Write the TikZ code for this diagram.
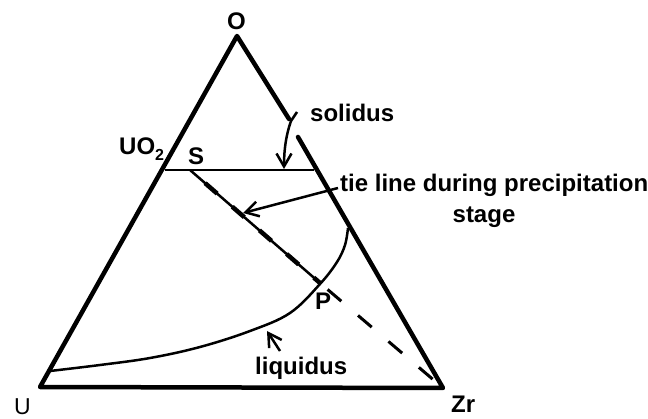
\documentclass[tikz,border=0pt]{standalone}
\usepackage{fontspec}
\setmainfont{Liberation Sans}
\usetikzlibrary{arrows.meta}
\begin{document}
\begin{tikzpicture}[x=1pt,y=-1pt,
  side/.style={line width=4.5pt, line cap=round, line join=round},
  thinline/.style={line width=2.5pt},
  lbl/.style={font=\fontsize{24}{28}\selectfont\bfseries, inner sep=0pt, anchor=base west},
  ptr/.style={line width=2.5pt, -{Straight Barb[length=13pt,width=15pt,line width=2.5pt]}}
]
\useasboundingbox[fill=white] (0,0) rectangle (648,419);
% vertices
\coordinate (O) at (237,36);
\coordinate (U) at (40,387);
\coordinate (Zr) at (443,388);
\coordinate (ga) at (289,119);
\coordinate (gb) at (298,137);
% triangle
\draw[side] (ga) -- (O) -- (U) -- (Zr) -- (gb);
% horizontal tie line (solidus)
\coordinate (UO2p) at (165,170);
\coordinate (Sp) at (190,170);
\coordinate (Rp) at (314,170);
\coordinate (Pp) at (320,283);
\draw[thinline] (UO2p) -- (Rp);
% tie line during precipitation
\draw[thinline] (Sp) -- (Pp);
\draw[line width=4.5pt, dash pattern=on 16pt off 20pt, dash phase=-20pt] (Sp) -- (Pp);
\draw[line width=3pt, dash pattern=on 18pt off 22pt, dash phase=30pt] (Pp) -- (Zr);
% liquidus curve
\draw[thinline] plot[smooth, tension=0.6] coordinates {(50,371) (100,365) (150,358) (200,347) (250,331) (290,313) (320,284) (337,262) (345,245) (348,228)};
% labels
\node[lbl] (lO) at (227,30) {O};
\node[lbl, font=\fontsize{23}{28}\selectfont] (lU) at (14,415) {U};
\node[lbl] (lZr) at (451,413) {Zr};
\node[lbl] (lUO) at (119,155) {UO\raisebox{-6pt}{\fontsize{16}{16}\selectfont 2}};
\node[lbl] (lS) at (188,165) {S};
\node[lbl] (lP) at (315,310) {P};
\node[lbl] (lsol) at (310,122) {solidus};
\node[lbl] (ltie) at (340,192) {tie line during precipitation};
\node[lbl, anchor=base] (lstage) at (484,223) {stage};
\node[lbl] (lliq) at (255,375) {liquidus};
% pointer arrows
\coordinate (solA) at (297,112);
\coordinate (solB) at (291,121);
\coordinate (solT) at (284,169);
\draw[ptr] (solA) -- (solB) .. controls (286,135) and (284,150) .. (solT);
\coordinate (tieA) at (338,188);
\coordinate (tieT) at (243,213);
\draw[ptr] (tieA) -- (tieT);
\coordinate (liqA) at (280,351);
\coordinate (liqT) at (267,331);
\draw[ptr] (liqA) -- (liqT);
\end{tikzpicture}
\end{document}
